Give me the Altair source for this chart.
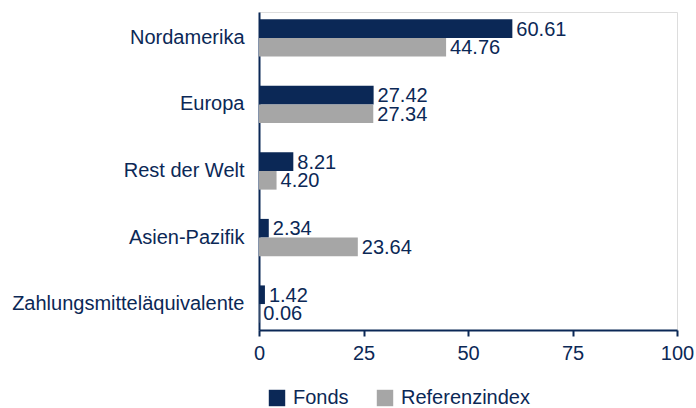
import altair as alt
import pandas as pd

categories = ["Nordamerika", "Europa", "Rest der Welt", "Asien-Pazifik", "Zahlungsmitteläquivalente"]
fonds = [60.61, 27.42, 8.21, 2.34, 1.42]
referenz = [44.76, 27.34, 4.20, 23.64, 0.06]
series = ["Fonds", "Referenzindex"]
x_ticks = [0, 25, 50, 75, 100]

NAVY = "#0b2856"
GREY = "#a6a6a6"
FONT = "Liberation Sans"
FS = 20

rows = []
for c, f, r in zip(categories, fonds, referenz):
    rows.append({"Region": c, "Serie": series[0], "Wert": f})
    rows.append({"Region": c, "Serie": series[1], "Wert": r})
df = pd.DataFrame(rows)

y_enc = alt.Y("Region:N", sort=categories, title=None,
              scale=alt.Scale(paddingInner=0.44, paddingOuter=0.11),
              axis=alt.Axis(domainColor=NAVY, domainWidth=2, ticks=False,
                            labelPadding=15, labelFontSize=FS, labelColor=NAVY,
                            labelFont=FONT, labelLimit=400))
x_enc = alt.X("Wert:Q", title=None,
              scale=alt.Scale(domain=[0, 100], nice=False),
              axis=alt.Axis(values=x_ticks, grid=False, domainColor=NAVY, domainWidth=2,
                            tickColor=NAVY, tickWidth=2, tickSize=6,
                            labelPadding=7, labelFontSize=FS, labelColor=NAVY,
                            labelFont=FONT, labelFlush=False))
yoff = alt.YOffset("Serie:N", sort=series, scale=alt.Scale(paddingInner=0, paddingOuter=0))

bars = alt.Chart(df).mark_bar().encode(
    y=y_enc,
    x=x_enc,
    yOffset=yoff,
    color=alt.Color("Serie:N", sort=series,
                    scale=alt.Scale(domain=series, range=[NAVY, GREY]),
                    legend=alt.Legend(title=None, orient="none", direction="horizontal",
                                      legendX=8, legendY=376,
                                      symbolType="square", symbolSize=270,
                                      symbolStrokeWidth=0,
                                      labelFontSize=FS, labelColor=NAVY, labelFont=FONT,
                                      columnPadding=26, labelOffset=6)),
)

labels = alt.Chart(df).mark_text(align="left", baseline="middle", dx=4, dy=1,
                                 fontSize=FS, color=NAVY, font=FONT).encode(
    y=alt.Y("Region:N", sort=categories),
    x="Wert:Q",
    yOffset=yoff,
    text=alt.Text("Wert:Q", format=".2f"),
)

chart = (bars + labels).properties(
    width=418, height=318,
    autosize=alt.AutoSizeParams(type="none"),
    padding={"left": 259, "top": 12, "right": 19, "bottom": 78},
).configure_view(stroke=None).configure(background="white")

chart.save("out.html", embed_options={"renderer": "svg", "actions": False})
